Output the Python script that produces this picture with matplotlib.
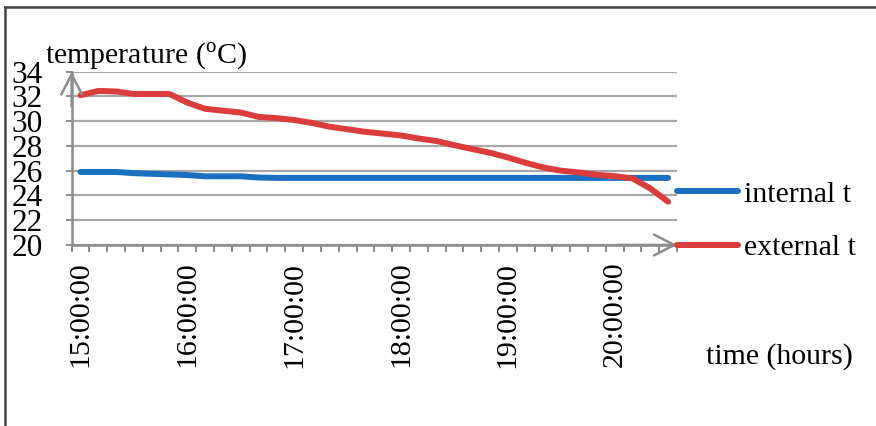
import matplotlib.pyplot as plt
import numpy as np

times = ["15:00:00", "15:10:00", "15:20:00", "15:30:00", "15:40:00", "15:50:00",
         "16:00:00", "16:10:00", "16:20:00", "16:30:00", "16:40:00", "16:50:00",
         "17:00:00", "17:10:00", "17:20:00", "17:30:00", "17:40:00", "17:50:00",
         "18:00:00", "18:10:00", "18:20:00", "18:30:00", "18:40:00", "18:50:00",
         "19:00:00", "19:10:00", "19:20:00", "19:30:00", "19:40:00", "19:50:00",
         "20:00:00", "20:10:00", "20:20:00", "20:30:00"]

internal_t = [25.9, 25.9, 25.9, 25.8, 25.75, 25.7, 25.65, 25.55, 25.55, 25.55, 25.45, 25.42,
              25.42, 25.42, 25.42, 25.42, 25.42, 25.42, 25.42, 25.42, 25.42, 25.42, 25.42, 25.42,
              25.42, 25.42, 25.42, 25.42, 25.42, 25.42, 25.42, 25.42, 25.42, 25.42]

external_t = [32.1, 32.45, 32.4, 32.2, 32.2, 32.2, 31.5, 31.0, 30.85, 30.7, 30.35, 30.25,
              30.1, 29.86, 29.55, 29.35, 29.14, 29.0, 28.85, 28.6, 28.4, 28.06, 27.75, 27.45,
              27.07, 26.64, 26.26, 26.0, 25.86, 25.67, 25.56, 25.38, 24.57, 23.5]

yticks = [20, 22, 24, 26, 28, 30, 32, 34]

plt.rcParams['font.family'] = ['Liberation Serif', 'DejaVu Serif']
plt.rcParams['mathtext.fontset'] = 'custom'
plt.rcParams['mathtext.rm'] = 'Liberation Serif'
fs = 21.5
gray = '#8c8c8c'

fig = plt.figure(figsize=(8.76, 4.26), dpi=100)
ax = fig.add_axes([0.0818, 0.4249, 0.691, 0.4068])

x = np.arange(len(times))
ax.plot(x, internal_t, color='#1a6fc1', lw=4.3, solid_capstyle='round',
        solid_joinstyle='round', label='internal t')
ax.plot(x, external_t, color='#db3c3c', lw=4.3, solid_capstyle='round',
        solid_joinstyle='round', label='external t')

ax.set_xlim(-0.5, len(times) - 0.5)
ax.set_ylim(20, 34)
ax.set_yticks(yticks)
ax.set_yticklabels([str(v) for v in yticks], fontsize=22.5)
ax.yaxis.grid(True, color='#a8a8a8', lw=1.6)
ax.set_axisbelow(True)

ax.set_xticks(x[::6])
ax.set_xticklabels(times[::6], rotation=90, fontsize=fs)
ax.set_xticks(np.arange(len(times) + 1) - 0.5, minor=True)
ax.tick_params(axis='x', which='major', length=0, pad=12)
ax.tick_params(axis='x', which='minor', length=5, width=1.4, color=gray, direction='out')
ax.tick_params(axis='y', length=4, width=1.4, color=gray, pad=17)

for s in ['top', 'right']:
    ax.spines[s].set_visible(False)
for s in ['left', 'bottom']:
    ax.spines[s].set_color(gray)
    ax.spines[s].set_linewidth(1.8)

# axis arrow heads
arrow = dict(arrowstyle='->,head_length=1.45,head_width=0.75', color=gray, lw=1.8,
             shrinkA=0, shrinkB=0)
ax.annotate('', xy=(1, 0), xytext=(0.9, 0), xycoords='axes fraction', arrowprops=arrow)
ax.annotate('', xy=(0, 1), xytext=(0, 0.8), xycoords='axes fraction', arrowprops=arrow)

fig.text(45 / 876, 1 - 63 / 426, r'temperature ($^{\mathrm{o}}$C)', fontsize=fs, va='baseline')
fig.text(706 / 876, 1 - 364 / 426, 'time (hours)', fontsize=fs, va='baseline')

ax.legend(loc='upper left', bbox_to_anchor=(677 / 876, 1 - 181 / 426),
          bbox_transform=fig.transFigure, frameon=False, fontsize=fs,
          handlelength=2.05, handletextpad=0.2, labelspacing=0.89,
          borderpad=0, borderaxespad=0)

# outer frame
fig.add_artist(plt.Line2D([5 / 876, 5 / 876], [0, 1 - 7 / 426], color='#444444', lw=1.8))
fig.add_artist(plt.Line2D([5 / 876, 1], [1 - 7 / 426, 1 - 7 / 426], color='#444444', lw=1.8))

fig.savefig('out.png', dpi=100)
